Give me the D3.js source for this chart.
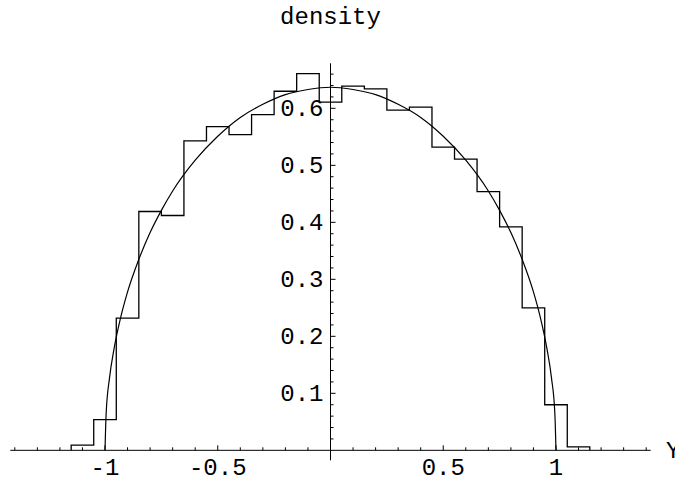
<!DOCTYPE html>
<html>
<head>
<meta charset="utf-8">
<script src="https://cdn.jsdelivr.net/npm/d3@7"></script>
<style>
  html, body { margin: 0; padding: 0; background: #fff; }
  svg { display: block; }
  text { font-family: "Liberation Mono", "Courier New", "DejaVu Sans Mono", monospace; fill: #000; }
</style>
</head>
<body>
<script>
// ---- data ----
const title = "density";
const xAxisLabel = "Y";

// histogram: bin centres and heights (bin width 0.1)
const binCenters = [-1.1, -1.0, -0.9, -0.8, -0.7, -0.6, -0.5, -0.4, -0.3, -0.2, -0.1, 0.0,
                    0.1, 0.2, 0.3, 0.4, 0.5, 0.6, 0.7, 0.8, 0.9, 1.0, 1.1];
const binHeights = [0.009, 0.054, 0.232, 0.419, 0.412, 0.543, 0.568, 0.554, 0.589, 0.630, 0.661, 0.611,
                    0.639, 0.634, 0.597, 0.602, 0.532, 0.511, 0.454, 0.392, 0.250, 0.080, 0.006];
const binWidth = 0.1;

// density curve points
const curveX = [-1.0, -0.995, -0.98, -0.96, -0.93, -0.9, -0.85, -0.8, -0.75, -0.7, -0.6, -0.5, -0.4, -0.3, -0.2, -0.1, 0.0,
                0.1, 0.2, 0.3, 0.4, 0.5, 0.6, 0.7, 0.75, 0.8, 0.85, 0.9, 0.93, 0.96, 0.98, 0.995, 1.0];
const curveY = [0.0, 0.064, 0.127, 0.178, 0.234, 0.278, 0.335, 0.382, 0.421, 0.455, 0.509, 0.551, 0.584, 0.607, 0.624, 0.633, 0.637,
                0.633, 0.624, 0.607, 0.584, 0.551, 0.509, 0.455, 0.421, 0.382, 0.335, 0.278, 0.234, 0.178, 0.127, 0.064, 0.0];

// ticks
const xMajorTicks = [-1, -0.5, 0.5, 1];
const xMajorLabels = ["-1", "-0.5", "0.5", "1"];
const xMinorTicks = [-1.4, -1.3, -1.2, -1.1, -0.9, -0.8, -0.7, -0.6, -0.4, -0.3, -0.2, -0.1,
                     0.1, 0.2, 0.3, 0.4, 0.6, 0.7, 0.8, 0.9, 1.1, 1.2, 1.3, 1.4];
const yMajorTicks = [0.1, 0.2, 0.3, 0.4, 0.5, 0.6];
const yMajorLabels = ["0.1", "0.2", "0.3", "0.4", "0.5", "0.6"];
const yMinorTicks = [0.02, 0.04, 0.06, 0.08, 0.12, 0.14, 0.16, 0.18, 0.22, 0.24, 0.26, 0.28,
                     0.32, 0.34, 0.36, 0.38, 0.42, 0.44, 0.46, 0.48, 0.52, 0.54, 0.56, 0.58,
                     0.62, 0.64, 0.66];

// ---- drawing ----
const W = 675, H = 483;
const FS = 24;
const svg = d3.select("body").append("svg").attr("width", W).attr("height", H);

const x = d3.scaleLinear().domain([-1.42, 1.42]).range([10.3, 650.7]);
const y = d3.scaleLinear().domain([-0.0175, 0.679]).range([460.3, 63.3]);

const g = svg.append("g");

// axes lines
g.append("line").attr("x1", x(-1.42)).attr("x2", x(1.42)).attr("y1", y(0)).attr("y2", y(0))
  .attr("stroke", "#000").attr("stroke-width", 1);
g.append("line").attr("x1", x(0)).attr("x2", x(0)).attr("y1", y(-0.0175)).attr("y2", y(0.679))
  .attr("stroke", "#000").attr("stroke-width", 1);

// x ticks (drawn upward)
g.selectAll(".xmin").data(xMinorTicks).join("line")
  .attr("x1", d => x(d)).attr("x2", d => x(d)).attr("y1", y(0)).attr("y2", y(0) - 3)
  .attr("stroke", "#000").attr("stroke-width", 1);
g.selectAll(".xmaj").data(xMajorTicks).join("line")
  .attr("x1", d => x(d)).attr("x2", d => x(d)).attr("y1", y(0)).attr("y2", y(0) - 5)
  .attr("stroke", "#000").attr("stroke-width", 1);
g.selectAll(".xlab").data(xMajorTicks).join("text")
  .attr("x", d => x(d)).attr("y", y(0) + 25)
  .attr("text-anchor", "middle").attr("font-size", FS)
  .text((d, i) => xMajorLabels[i]);

// y ticks (drawn to the right)
g.selectAll(".ymin").data(yMinorTicks).join("line")
  .attr("x1", x(0)).attr("x2", x(0) + 3).attr("y1", d => y(d)).attr("y2", d => y(d))
  .attr("stroke", "#000").attr("stroke-width", 1);
g.selectAll(".ymaj").data(yMajorTicks).join("line")
  .attr("x1", x(0)).attr("x2", x(0) + 5).attr("y1", d => y(d)).attr("y2", d => y(d))
  .attr("stroke", "#000").attr("stroke-width", 1);
g.selectAll(".ylab").data(yMajorTicks).join("text")
  .attr("x", x(0) - 7).attr("y", d => y(d) + 8)
  .attr("text-anchor", "end").attr("font-size", FS)
  .text((d, i) => yMajorLabels[i]);

// histogram step outline
const stepPts = [[binCenters[0] - binWidth / 2, 0]];
binCenters.forEach((c, i) => stepPts.push([c - binWidth / 2, binHeights[i]]));
stepPts.push([binCenters[binCenters.length - 1] + binWidth / 2, 0]);
const stepLine = d3.line().x(d => x(d[0])).y(d => y(d[1])).curve(d3.curveStepAfter);
g.append("path").attr("d", stepLine(stepPts))
  .attr("fill", "none").attr("stroke", "#000").attr("stroke-width", 1.3);

// density curve
const curvePts = curveX.map((v, i) => [v, curveY[i]]);
const curveLine = d3.line().x(d => x(d[0])).y(d => y(d[1])).curve(d3.curveMonotoneX);
g.append("path").attr("d", curveLine(curvePts))
  .attr("fill", "none").attr("stroke", "#000").attr("stroke-width", 1.2);

// title and axis label
svg.append("text").attr("x", x(0)).attr("y", 24)
  .attr("text-anchor", "middle").attr("font-size", FS).text(title);
svg.append("text").attr("x", 666).attr("y", y(0) + 8)
  .attr("text-anchor", "start").attr("font-size", FS).text(xAxisLabel);
</script>
</body>
</html>
